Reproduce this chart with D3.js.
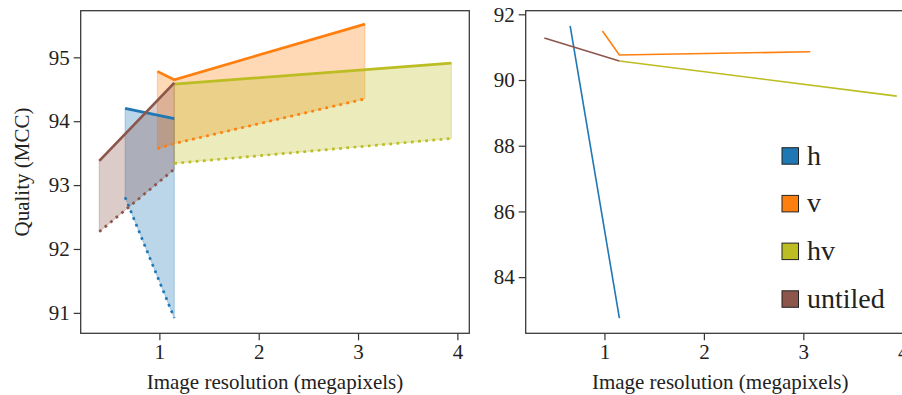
<!DOCTYPE html>
<html>
<head>
<meta charset="utf-8">
<script src="https://cdn.jsdelivr.net/npm/d3@7"></script>
<style>
  body { margin: 0; background: #fff; }
  svg { display: block; }
  text { font-family: "Liberation Serif", "DejaVu Serif", serif; fill: #222; }
</style>
</head>
<body>
<figure id="chart" style="margin:0"></figure>
<script>
// series names and colours
const seriesNames = ['h', 'v', 'hv', 'untiled'];
const seriesColors = ['#1f77b4', '#ff7f0e', '#bcbd22', '#8c564b'];

// x values (megapixels) per series
const xH = [0.655, 1.15];
const xV = [0.98, 1.15, 3.07];
const xHV = [1.15, 3.94];
const xUntiled = [0.395, 1.15];

// left panel: upper (solid) and lower (dotted) quality
const upperH = [94.20, 94.04];
const lowerH = [92.81, 90.92];
const upperV = [94.78, 94.65, 95.52];
const lowerV = [93.57, 93.65, 94.35];
const upperHV = [94.58, 94.91];
const lowerHV = [93.34, 93.73];
const upperUntiled = [93.38, 94.60];
const lowerUntiled = [92.27, 93.25];

// right panel values
const rightH = [91.65, 82.75];
const rightV = [91.49, 90.76, 90.86];
const rightHV = [90.58, 89.51];
const rightUntiled = [91.28, 90.58];

const xTicks = [1, 2, 3, 4];
const leftYTicks = [91, 92, 93, 94, 95];
const rightYTicks = [84, 86, 88, 90, 92];

const series = [
  { name: 'h', xs: xH, upper: upperH, lower: lowerH, right: rightH },
  { name: 'v', xs: xV, upper: upperV, lower: lowerV, right: rightV },
  { name: 'hv', xs: xHV, upper: upperHV, lower: lowerHV, right: rightHV },
  { name: 'untiled', xs: xUntiled, upper: upperUntiled, lower: lowerUntiled, right: rightUntiled }
];

const width = 902, height = 395;
const plotTop = 10.7, plotBottom = 333.3;
const fontSize = 21;

const svg = d3.select('figure#chart')
  .append('svg')
  .attr('width', width)
  .attr('height', height);

const color = d3.scaleOrdinal().domain(seriesNames).range(seriesColors);

function drawAxes(g, x, y, yTicks) {
  const [x0, x1] = x.range();
  // bottom axis
  const ax = g.append('g')
    .attr('transform', 'translate(0,' + plotBottom + ')')
    .call(d3.axisBottom(x).tickValues(xTicks).tickSize(7).tickPadding(4).tickFormat(d3.format('d')));
  ax.select('.domain').remove();
  ax.selectAll('line').attr('stroke', '#333').attr('stroke-width', 1.2);
  ax.selectAll('text').attr('font-size', fontSize).style('font-family', '"Liberation Serif", serif').attr('fill', '#222');

  const ay = g.append('g')
    .attr('transform', 'translate(' + x0 + ',0)')
    .call(d3.axisLeft(y).tickValues(yTicks).tickSize(7).tickPadding(4).tickFormat(d3.format('d')));
  ay.select('.domain').remove();
  ay.selectAll('line').attr('stroke', '#333').attr('stroke-width', 1.2);
  ay.selectAll('text').attr('font-size', fontSize).style('font-family', '"Liberation Serif", serif').attr('fill', '#222');

  g.append('text')
    .attr('x', (x0 + x1) / 2)
    .attr('y', 389)
    .attr('text-anchor', 'middle')
    .attr('font-size', fontSize)
    .text('Image resolution (megapixels)');
}

function drawFrame(g, x) {
  const [x0, x1] = x.range();
  g.append('rect')
    .attr('x', x0).attr('y', plotTop)
    .attr('width', x1 - x0).attr('height', plotBottom - plotTop)
    .attr('fill', 'none').attr('stroke', '#333').attr('stroke-width', 1.25);
}

// ---------- left panel ----------
const xl = d3.scaleLinear().domain([0.208, 4.12]).range([80.7, 469.3]);
const yl = d3.scaleLinear().domain([90.68, 95.73]).range([plotBottom, plotTop]);

const left = svg.append('g');

const area = d3.area()
  .x(d => xl(d.x))
  .y0(d => yl(d.lo))
  .y1(d => yl(d.hi));

series.forEach(s => {
  const pts = s.xs.map((x, i) => ({ x: x, hi: s.upper[i], lo: s.lower[i] }));
  left.append('path')
    .datum(pts)
    .attr('d', area)
    .attr('fill', color(s.name))
    .attr('fill-opacity', 0.3)
    .attr('stroke', color(s.name))
    .attr('stroke-opacity', 0.3)
    .attr('stroke-width', 1);
});

const lineL = d3.line().x(d => xl(d[0])).y(d => yl(d[1]));

series.forEach(s => {
  left.append('path')
    .datum(s.xs.map((x, i) => [x, s.upper[i]]))
    .attr('d', lineL)
    .attr('fill', 'none')
    .attr('stroke', color(s.name))
    .attr('stroke-width', 2.7);
  left.append('path')
    .datum(s.xs.map((x, i) => [x, s.lower[i]]))
    .attr('d', lineL)
    .attr('fill', 'none')
    .attr('stroke', color(s.name))
    .attr('stroke-width', 2.7)
    .attr('stroke-dasharray', '2.7,4.5');
});

drawFrame(left, xl);
drawAxes(left, xl, yl, leftYTicks);

left.append('text')
  .attr('transform', 'translate(29,' + ((plotTop + plotBottom) / 2) + ') rotate(-90)')
  .attr('text-anchor', 'middle')
  .attr('font-size', fontSize)
  .text('Quality (MCC)');

// ---------- right panel ----------
const xr = d3.scaleLinear().domain([0.208, 4.12]).range([525.7, 914.7]);
const yr = d3.scaleLinear().domain([82.29, 92.11]).range([plotBottom, plotTop]);

const right = svg.append('g');
const lineR = d3.line().x(d => xr(d[0])).y(d => yr(d[1]));

series.forEach(s => {
  right.append('path')
    .datum(s.xs.map((x, i) => [x, s.right[i]]))
    .attr('d', lineR)
    .attr('fill', 'none')
    .attr('stroke', color(s.name))
    .attr('stroke-width', 1.6);
});

drawFrame(right, xr);
drawAxes(right, xr, yr, rightYTicks);

// legend
const legend = right.append('g')
  .attr('transform', 'translate(782,156)');

const item = legend.selectAll('g')
  .data(seriesNames)
  .enter()
  .append('g')
  .attr('transform', (d, i) => 'translate(0,' + (i * 47.7) + ')');

item.append('rect')
  .attr('x', 0).attr('y', -8.3)
  .attr('width', 16.5).attr('height', 16.5)
  .attr('fill', d => color(d))
  .attr('stroke', '#222')
  .attr('stroke-width', 1);

item.append('text')
  .attr('x', 25)
  .attr('y', 8.5)
  .attr('font-size', 28)
  .text(d => d);
</script>
</body>
</html>
